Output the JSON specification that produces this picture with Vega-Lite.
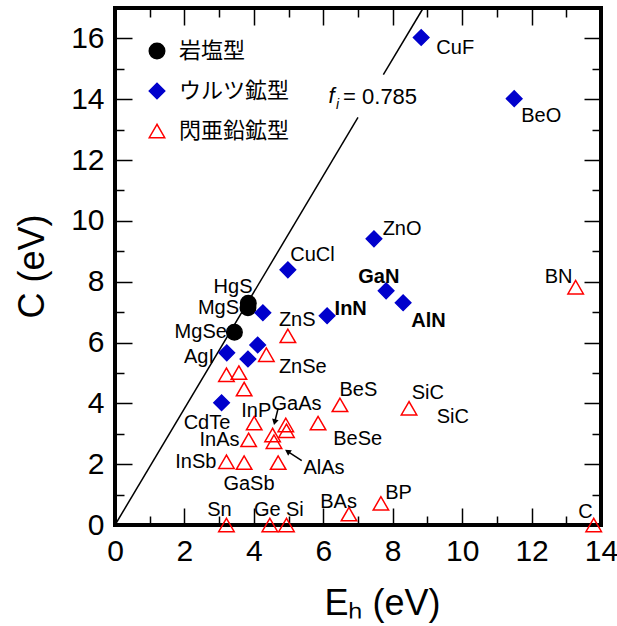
{
  "$schema": "https://vega.github.io/schema/vega-lite/v6.json",
  "autosize": {"type": "none"},
  "padding": {"left": 115, "top": 8, "right": 16, "bottom": 101},
  "width": 486,
  "height": 517,
  "config": {
    "view": {"stroke": "black", "strokeWidth": 4},
    "font": "Liberation Sans",
    "axis": {"grid": false, "domain": false, "tickColor": "black", "tickWidth": 1.5, "labelColor": "black", "titleColor": "black", "labelFont": "Liberation Sans", "titleFont": "Liberation Sans", "labelFontSize": 30, "titleFontSize": 36, "titleFontWeight": "normal", "labelFlush": false, "labelOverlap": false},
    "legend": {"orient": "none", "legendX": 31, "legendY": 32, "labelFontSize": 22, "labelFont": "Noto Sans CJK JP", "labelColor": "black", "symbolSize": 240, "symbolStrokeWidth": 1.5, "rowPadding": 18, "labelOffset": 11, "padding": 0}
  },
  "datasets": {
    "points": [
      {"name": "HgS", "Eh": 3.84, "C": 7.29, "type": "岩塩型"},
      {"name": "MgS", "Eh": 3.83, "C": 7.14, "type": "岩塩型"},
      {"name": "MgSe", "Eh": 3.44, "C": 6.34, "type": "岩塩型"},
      {"name": "CuF", "Eh": 8.82, "C": 16.03, "type": "ウルツ鉱型"},
      {"name": "BeO", "Eh": 11.5, "C": 14.02, "type": "ウルツ鉱型"},
      {"name": "ZnO", "Eh": 7.46, "C": 9.41, "type": "ウルツ鉱型"},
      {"name": "CuCl", "Eh": 4.98, "C": 8.39, "type": "ウルツ鉱型"},
      {"name": "GaN", "Eh": 7.81, "C": 7.7, "type": "ウルツ鉱型"},
      {"name": "AlN", "Eh": 8.3, "C": 7.31, "type": "ウルツ鉱型"},
      {"name": "InN", "Eh": 6.11, "C": 6.88, "type": "ウルツ鉱型"},
      {"name": "ZnS", "Eh": 4.26, "C": 6.98, "type": "ウルツ鉱型"},
      {"name": "AgI", "Eh": 3.22, "C": 5.66, "type": "ウルツ鉱型"},
      {"name": "ZnSe", "Eh": 4.11, "C": 5.92, "type": "ウルツ鉱型"},
      {"name": "CdS", "Eh": 3.83, "C": 5.46, "type": "ウルツ鉱型"},
      {"name": "CdTe", "Eh": 3.07, "C": 4.02, "type": "ウルツ鉱型"},
      {"name": "ZnS", "Eh": 4.98, "C": 6.22, "type": "閃亜鉛鉱型"},
      {"name": "ZnSe", "Eh": 4.36, "C": 5.6, "type": "閃亜鉛鉱型"},
      {"name": "CdTe", "Eh": 3.21, "C": 4.94, "type": "閃亜鉛鉱型"},
      {"name": "HgSe", "Eh": 3.57, "C": 5.01, "type": "閃亜鉛鉱型"},
      {"name": "ZnTe", "Eh": 3.72, "C": 4.47, "type": "閃亜鉛鉱型"},
      {"name": "InP", "Eh": 4.01, "C": 3.35, "type": "閃亜鉛鉱型"},
      {"name": "GaP", "Eh": 4.92, "C": 3.29, "type": "閃亜鉛鉱型"},
      {"name": "AlP", "Eh": 4.94, "C": 3.1, "type": "閃亜鉛鉱型"},
      {"name": "BeSe", "Eh": 5.85, "C": 3.35, "type": "閃亜鉛鉱型"},
      {"name": "BeS", "Eh": 6.48, "C": 3.95, "type": "閃亜鉛鉱型"},
      {"name": "SiC", "Eh": 8.47, "C": 3.84, "type": "閃亜鉛鉱型"},
      {"name": "GaAs", "Eh": 4.54, "C": 2.96, "type": "閃亜鉛鉱型"},
      {"name": "AlAs", "Eh": 4.58, "C": 2.74, "type": "閃亜鉛鉱型"},
      {"name": "InAs", "Eh": 3.85, "C": 2.8, "type": "閃亜鉛鉱型"},
      {"name": "InSb", "Eh": 3.21, "C": 2.08, "type": "閃亜鉛鉱型"},
      {"name": "GaSb", "Eh": 3.72, "C": 2.05, "type": "閃亜鉛鉱型"},
      {"name": "AlSb", "Eh": 4.7, "C": 2.05, "type": "閃亜鉛鉱型"},
      {"name": "Sn", "Eh": 3.21, "C": 0, "type": "閃亜鉛鉱型"},
      {"name": "Ge", "Eh": 4.46, "C": 0, "type": "閃亜鉛鉱型"},
      {"name": "Si", "Eh": 4.94, "C": 0, "type": "閃亜鉛鉱型"},
      {"name": "BAs", "Eh": 6.74, "C": 0.36, "type": "閃亜鉛鉱型"},
      {"name": "BP", "Eh": 7.66, "C": 0.71, "type": "閃亜鉛鉱型"},
      {"name": "C", "Eh": 13.79, "C": 0, "type": "閃亜鉛鉱型"},
      {"name": "BN", "Eh": 13.27, "C": 7.82, "type": "閃亜鉛鉱型"}
    ],
    "labels": [
      {"label": "CuF", "Eh": 9.8, "C": 15.7},
      {"label": "BeO", "Eh": 12.28, "C": 13.46},
      {"label": "ZnO", "Eh": 8.27, "C": 9.72},
      {"label": "CuCl", "Eh": 5.69, "C": 8.89},
      {"label": "ZnS", "Eh": 5.25, "C": 6.75},
      {"label": "HgS", "Eh": 3.4, "C": 7.84},
      {"label": "MgS", "Eh": 2.98, "C": 7.13},
      {"label": "MgSe", "Eh": 2.47, "C": 6.34},
      {"label": "AgI", "Eh": 2.42, "C": 5.51},
      {"label": "ZnSe", "Eh": 5.41, "C": 5.18},
      {"label": "CdTe", "Eh": 2.65, "C": 3.36},
      {"label": "InP", "Eh": 4.07, "C": 3.76},
      {"label": "GaAs", "Eh": 5.23, "C": 3.99},
      {"label": "InAs", "Eh": 3.01, "C": 2.78},
      {"label": "BeSe", "Eh": 6.99, "C": 2.84},
      {"label": "BeS", "Eh": 7.01, "C": 4.44},
      {"label": "SiC", "Eh": 9.01, "C": 4.34},
      {"label": "SiC", "Eh": 9.73, "C": 3.54},
      {"label": "InSb", "Eh": 2.33, "C": 2.07},
      {"label": "GaSb", "Eh": 3.86, "C": 1.34},
      {"label": "AlAs", "Eh": 6.02, "C": 1.87},
      {"label": "Sn", "Eh": 3.01, "C": 0.49},
      {"label": "Ge", "Eh": 4.39, "C": 0.49},
      {"label": "Si", "Eh": 5.18, "C": 0.49},
      {"label": "BAs", "Eh": 6.44, "C": 0.77},
      {"label": "BP", "Eh": 8.17, "C": 1.04},
      {"label": "BN", "Eh": 12.78, "C": 8.15},
      {"label": "C", "Eh": 13.55, "C": 0.44}
    ],
    "boldLabels": [
      {"label": "GaN", "Eh": 7.6, "C": 8.17},
      {"label": "InN", "Eh": 6.79, "C": 7.1},
      {"label": "AlN", "Eh": 9.03, "C": 6.72}
    ],
    "fiLine": [
      {"seg": "a", "Eh": 0, "C": 0},
      {"seg": "a", "Eh": 7.0, "C": 13.4},
      {"seg": "b", "Eh": 7.73, "C": 14.81},
      {"seg": "b", "Eh": 8.88, "C": 17.0}
    ],
    "arrows": [
      {"Eh": 4.7, "C": 3.84, "Eh2": 4.6, "C2": 3.38},
      {"Eh": 5.38, "C": 2.12, "Eh2": 4.97, "C2": 2.42}
    ]
  },
  "resolve": {"axis": {"x": "independent", "y": "independent"}},
  "layer": [
    {
      "data": {"name": "fiLine"},
      "mark": {"type": "line", "color": "black", "strokeWidth": 1.5},
      "encoding": {
        "x": {"field": "Eh", "type": "quantitative", "scale": {"domain": [0, 14], "nice": false, "zero": false},
          "axis": {"orient": "top", "values": [0,1,2,3,4,5,6,7,8,9,10,11,12,13,14], "labels": false, "title": null,
            "tickSize": {"condition": {"test": "datum.value % 2 === 0", "value": -17}, "value": -9}}},
        "y": {"field": "C", "type": "quantitative", "scale": {"domain": [0, 17], "nice": false, "zero": false},
          "axis": {"orient": "right", "values": [0,1,2,3,4,5,6,7,8,9,10,11,12,13,14,15,16,17], "labels": false, "title": null,
            "tickSize": {"condition": {"test": "datum.value % 2 === 0", "value": -17}, "value": -9}}},
        "detail": {"field": "seg"}
      }
    },
    {
      "data": {"name": "points"},
      "mark": {"type": "point", "size": 240, "strokeWidth": 1.5, "opacity": 1},
      "encoding": {
        "x": {"field": "Eh", "type": "quantitative",
          "axis": {"orient": "bottom", "values": [0,1,2,3,4,5,6,7,8,9,10,11,12,13,14],
            "labelExpr": "datum.value % 2 === 0 ? datum.label : ''",
            "tickSize": {"condition": {"test": "datum.value % 2 === 0", "value": -17}, "value": -9},
            "labelPadding": 28, "title": "Eₕ (eV)", "titleX": 267, "titleY": 78, "titleBaseline": "middle", "titleAlign": "center"}},
        "y": {"field": "C", "type": "quantitative",
          "axis": {"orient": "left", "values": [0,1,2,3,4,5,6,7,8,9,10,11,12,13,14,15,16,17],
            "labelExpr": "datum.value % 2 === 0 ? datum.label : ''",
            "tickSize": {"condition": {"test": "datum.value % 2 === 0", "value": -17}, "value": -9},
            "labelPadding": 28, "title": "C (eV)", "titleX": -83, "titleY": 258, "titleBaseline": "middle", "titleAlign": "center", "titleAngle": -90}},
        "shape": {"field": "type", "type": "nominal",
          "scale": {"domain": ["岩塩型", "ウルツ鉱型", "閃亜鉛鉱型"], "range": ["circle", "diamond", "triangle-up"]},
          "legend": {"title": null}},
        "fill": {"field": "type", "type": "nominal",
          "scale": {"domain": ["岩塩型", "ウルツ鉱型", "閃亜鉛鉱型"], "range": ["black", "#0000cc", "transparent"]},
          "legend": {"title": null}},
        "stroke": {"field": "type", "type": "nominal",
          "scale": {"domain": ["岩塩型", "ウルツ鉱型", "閃亜鉛鉱型"], "range": ["black", "#0000cc", "#ff0000"]},
          "legend": {"title": null}}
      }
    },
    {
      "data": {"name": "labels"},
      "mark": {"type": "text", "fontSize": 20, "font": "Liberation Sans", "color": "black", "align": "center", "baseline": "middle"},
      "encoding": {
        "x": {"field": "Eh", "type": "quantitative", "axis": null},
        "y": {"field": "C", "type": "quantitative", "axis": null},
        "text": {"field": "label"}
      }
    },
    {
      "data": {"name": "boldLabels"},
      "mark": {"type": "text", "fontSize": 20, "fontWeight": "bold", "font": "Liberation Sans", "color": "black", "align": "center", "baseline": "middle"},
      "encoding": {
        "x": {"field": "Eh", "type": "quantitative", "axis": null},
        "y": {"field": "C", "type": "quantitative", "axis": null},
        "text": {"field": "label"}
      }
    },
    {
      "data": {"values": [{"t": "f", "Eh": 6.24, "C": 14.09}]},
      "mark": {"type": "text", "fontSize": 22, "fontStyle": "italic", "font": "Liberation Sans", "color": "black", "align": "center", "baseline": "middle"},
      "encoding": {"x": {"field": "Eh", "type": "quantitative", "axis": null}, "y": {"field": "C", "type": "quantitative", "axis": null}, "text": {"field": "t"}}
    },
    {
      "data": {"values": [{"t": "i", "Eh": 6.41, "C": 13.8}]},
      "mark": {"type": "text", "fontSize": 14, "fontStyle": "italic", "font": "Liberation Sans", "color": "black", "align": "center", "baseline": "middle"},
      "encoding": {"x": {"field": "Eh", "type": "quantitative", "axis": null}, "y": {"field": "C", "type": "quantitative", "axis": null}, "text": {"field": "t"}}
    },
    {
      "data": {"values": [{"t": "= 0.785", "Eh": 6.57, "C": 14.06}]},
      "mark": {"type": "text", "fontSize": 22, "font": "Liberation Sans", "color": "black", "align": "left", "baseline": "middle"},
      "encoding": {"x": {"field": "Eh", "type": "quantitative", "axis": null}, "y": {"field": "C", "type": "quantitative", "axis": null}, "text": {"field": "t"}}
    },
    {
      "data": {"name": "arrows"},
      "mark": {"type": "rule", "color": "black", "strokeWidth": 1.5},
      "encoding": {
        "x": {"field": "Eh", "type": "quantitative", "axis": null},
        "y": {"field": "C", "type": "quantitative", "axis": null},
        "x2": {"field": "Eh2"},
        "y2": {"field": "C2"}
      }
    },
    {
      "data": {"values": [{"Eh": 4.6, "C": 3.38}]},
      "mark": {"type": "point", "shape": "triangle-up", "filled": true, "color": "black", "size": 45, "angle": 194, "opacity": 1},
      "encoding": {"x": {"field": "Eh", "type": "quantitative", "axis": null}, "y": {"field": "C", "type": "quantitative", "axis": null}}
    },
    {
      "data": {"values": [{"Eh": 4.97, "C": 2.42}]},
      "mark": {"type": "point", "shape": "triangle-up", "filled": true, "color": "black", "size": 45, "angle": 303, "opacity": 1},
      "encoding": {"x": {"field": "Eh", "type": "quantitative", "axis": null}, "y": {"field": "C", "type": "quantitative", "axis": null}}
    }
  ]
}
